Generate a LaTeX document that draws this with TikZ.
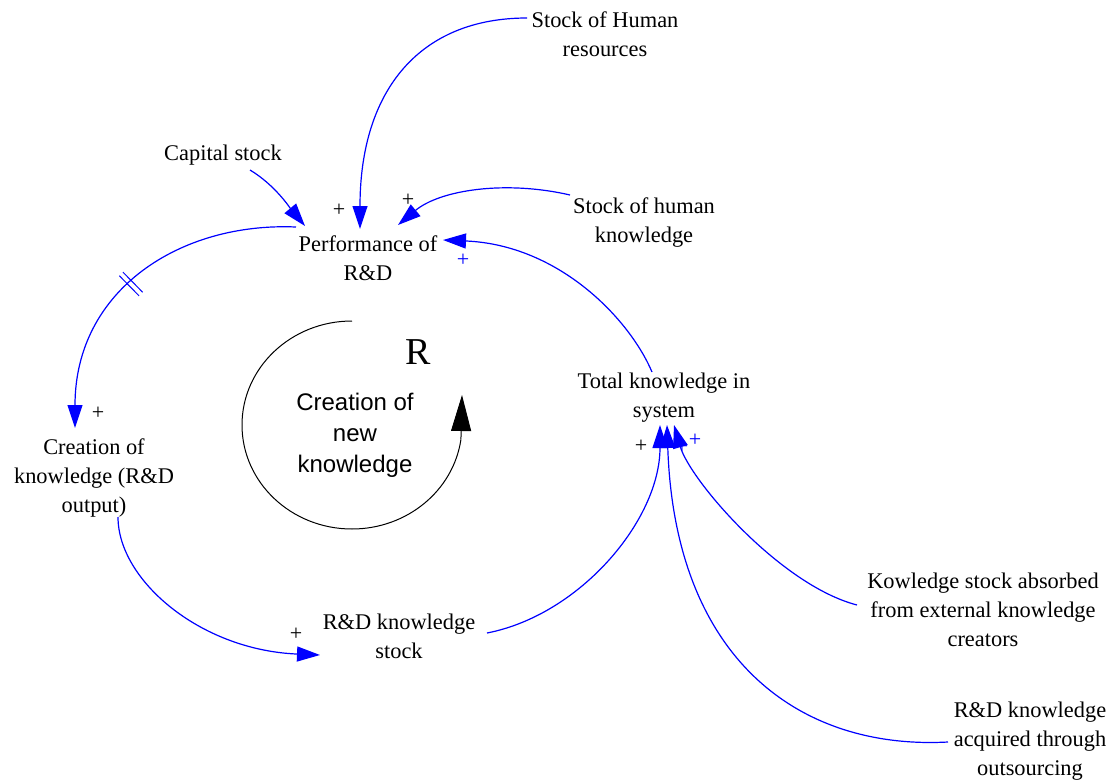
\documentclass[tikz,border=0pt]{standalone}
\usepackage{fontspec}
\setmainfont{Liberation Serif}
\newfontfamily\loopfont{Liberation Sans}
\usetikzlibrary{arrows.meta}
\definecolor{linkblue}{RGB}{0,0,255}
\begin{document}
\begin{tikzpicture}[x=0.5pt,y=0.5pt,
  var/.style={align=center,inner sep=0pt,font=\fontsize{11.2}{14.5}\selectfont},
  link/.style={linkblue,line width=0.6pt,-{Triangle[length=11.5pt,width=7.5pt]}},
  pol/.style={inner sep=0pt,font=\fontsize{11}{11}\selectfont},
  delaymark/.style={linkblue,line width=0.5pt}]
\useasboundingbox (0,0) rectangle (1114,-781);

% variables
\node[var] (hr)   at (605,-34)  {Stock of Human\\resources};
\node[var] (cap)  at (223,-155) {Capital stock};
\node[var] (perf) at (368,-258) {Performance of\\R\&D};
\node[var] (shk)  at (644,-223) {Stock of human\\knowledge};
\node[var] (tot)  at (664,-398) {Total knowledge in\\system};
\node[var] (cre)  at (94,-478)  {Creation of\\knowledge (R\&D\\output)};
\node[var] (rds)  at (399,-636) {R\&D knowledge\\stock};
\node[var] (kow)  at (983,-610) {Kowledge stock absorbed\\from external knowledge\\creators};
\node[var] (out)  at (1030,-741) {R\&D knowledge\\acquired through\\outsourcing};

% loop marker
\node[inner sep=0pt,font=\fontsize{19}{19}\selectfont] (loopR) at (418,-352) {R};
\node[inner sep=0pt,align=center,font=\loopfont\fontsize{12}{15.5}\selectfont] (loopname) at (355,-435) {Creation of\\new\\knowledge};
\draw[line width=0.5pt] (352,-321) arc[start angle=90,end angle=352,x radius=110,y radius=104]
  coordinate (loopend);
\draw[line width=0.5pt,-{Triangle[length=18pt,width=10pt]}] (loopend) -- (462,-395);

% causal links
\draw[link] ([shift={(-78,16)}]hr.center) .. controls (420,-18) and (360,-90) .. ([shift={(-8,29)}]perf.center);
\draw[link] ([shift={(27,-15)}]cap.center) .. controls (275,-185) and (290,-208) .. ([shift={(-63,32)}]perf.center);
\draw[link] ([shift={(-74,28)}]shk.center) .. controls (505,-180) and (440,-190) .. ([shift={(30,33)}]perf.center);
\draw[link] ([shift={(-12,26)}]tot.center) .. controls (630,-320) and (560,-245) .. ([shift={(75,18)}]perf.center);
\draw[link] ([shift={(-72,31)}]perf.center) .. controls (180,-222) and (75,-290) .. ([shift={(-19,50)}]cre.center);
\draw[link] ([shift={(24,-39)}]cre.center) .. controls (118,-580) and (200,-650) .. ([shift={(-79,-19)}]rds.center);
\draw[link] ([shift={(88,3)}]rds.center) .. controls (580,-615) and (660,-520) .. ([shift={(-4,-27)}]tot.center);
\draw[link] ([shift={(-126,5)}]kow.center) .. controls (780,-585) and (690,-480) .. ([shift={(10,-27)}]tot.center);
\draw[link] ([shift={(-82,-1)}]out.center) .. controls (800,-750) and (675,-660) .. ([shift={(3,-27)}]tot.center);

% delay mark on the R&D output link
\draw[delaymark] (119.4,-275.8) -- (139.0,-295.8);
\draw[delaymark] (123.0,-272.2) -- (142.6,-292.2);

% polarities
\node[pol] (p1) at (339,-210) {+};
\node[pol] (p2) at (408,-200) {+};
\node[pol,linkblue] (p3) at (463,-260) {+};
\node[pol] (p4) at (98,-413) {+};
\node[pol] (p5) at (296,-634) {+};
\node[pol] (p6) at (641,-446) {+};
\node[pol,linkblue] (p7) at (682,-447) {+};
\node[pol,linkblue] (p8) at (695,-440) {+};
\end{tikzpicture}
\end{document}
